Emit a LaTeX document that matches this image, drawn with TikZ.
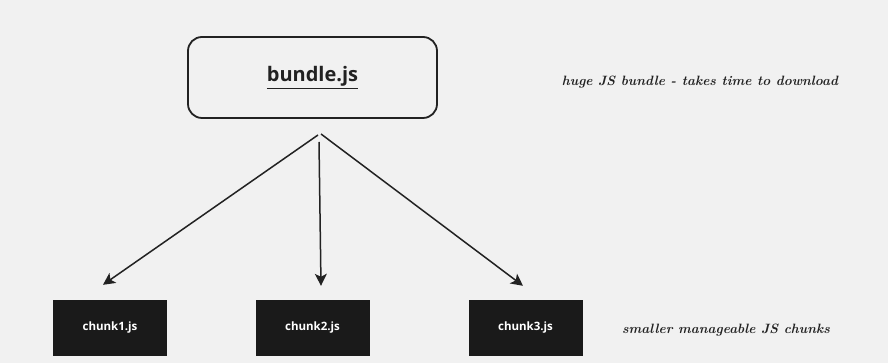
\documentclass[tikz,border=0pt]{standalone}
\usepackage{xcolor}
\usepackage{fontspec}
\setmainfont{Open Sans}
\newfontfamily\handfont{Latin Modern Roman}
\usepackage{tikz}
\usetikzlibrary{arrows.meta, calc}

\definecolor{paper}{HTML}{F1F1F1}
\definecolor{ink}{HTML}{222222}
\definecolor{chunkfill}{HTML}{1A1A1A}

\begin{document}
\begin{tikzpicture}[x=1pt, y=1pt,
		bundlebox/.style={draw=ink, line width=1.8pt, rounded corners=14pt, fill=paper,
			minimum width=249pt, minimum height=81pt, font=\fontsize{20}{24}\selectfont\bfseries, text=ink},
		chunkbox/.style={fill=chunkfill, minimum width=114pt, minimum height=56pt,
			font=\fontsize{11.5}{14}\selectfont\bfseries, text=white},
		note/.style={font=\handfont\bfseries\itshape\fontsize{13.5}{16}\selectfont, text=ink},
		link/.style={draw=ink, line width=1.5pt, -{Stealth[length=12pt, width=12pt, inset=3pt]}}]
	\fill[paper] (0,0) rectangle (888,363);
	\useasboundingbox (0,0) rectangle (888,363);
	% top box and its note
	\node[bundlebox] (bundle) at (312.5,285.5) {\underline{bundle.js}};
	\node[note] (bignote) at (700,281) {huge JS bundle - takes time to download};
	% the three chunks
	\node[chunkbox] (chunk1) at (110,35) {chunk1.js};
	\node[chunkbox] (chunk2) at (312.5,35) {chunk2.js};
	\node[chunkbox] (chunk3) at (525.5,35) {chunk3.js};
	\node[note] (smallnote) at (726,33) {smaller manageable JS chunks};
	% split
	\coordinate (fork) at (318,228);
	\draw[link] (fork) -- ($(chunk1.north)+(-7,15)$);
	\draw[link] ($(fork)+(1,-7)$) -- ($(chunk2.north)+(8.5,14)$);
	\draw[link] ($(fork)+(3,1)$) -- ($(chunk3.north)+(-2.5,14)$);
\end{tikzpicture}
\end{document}
